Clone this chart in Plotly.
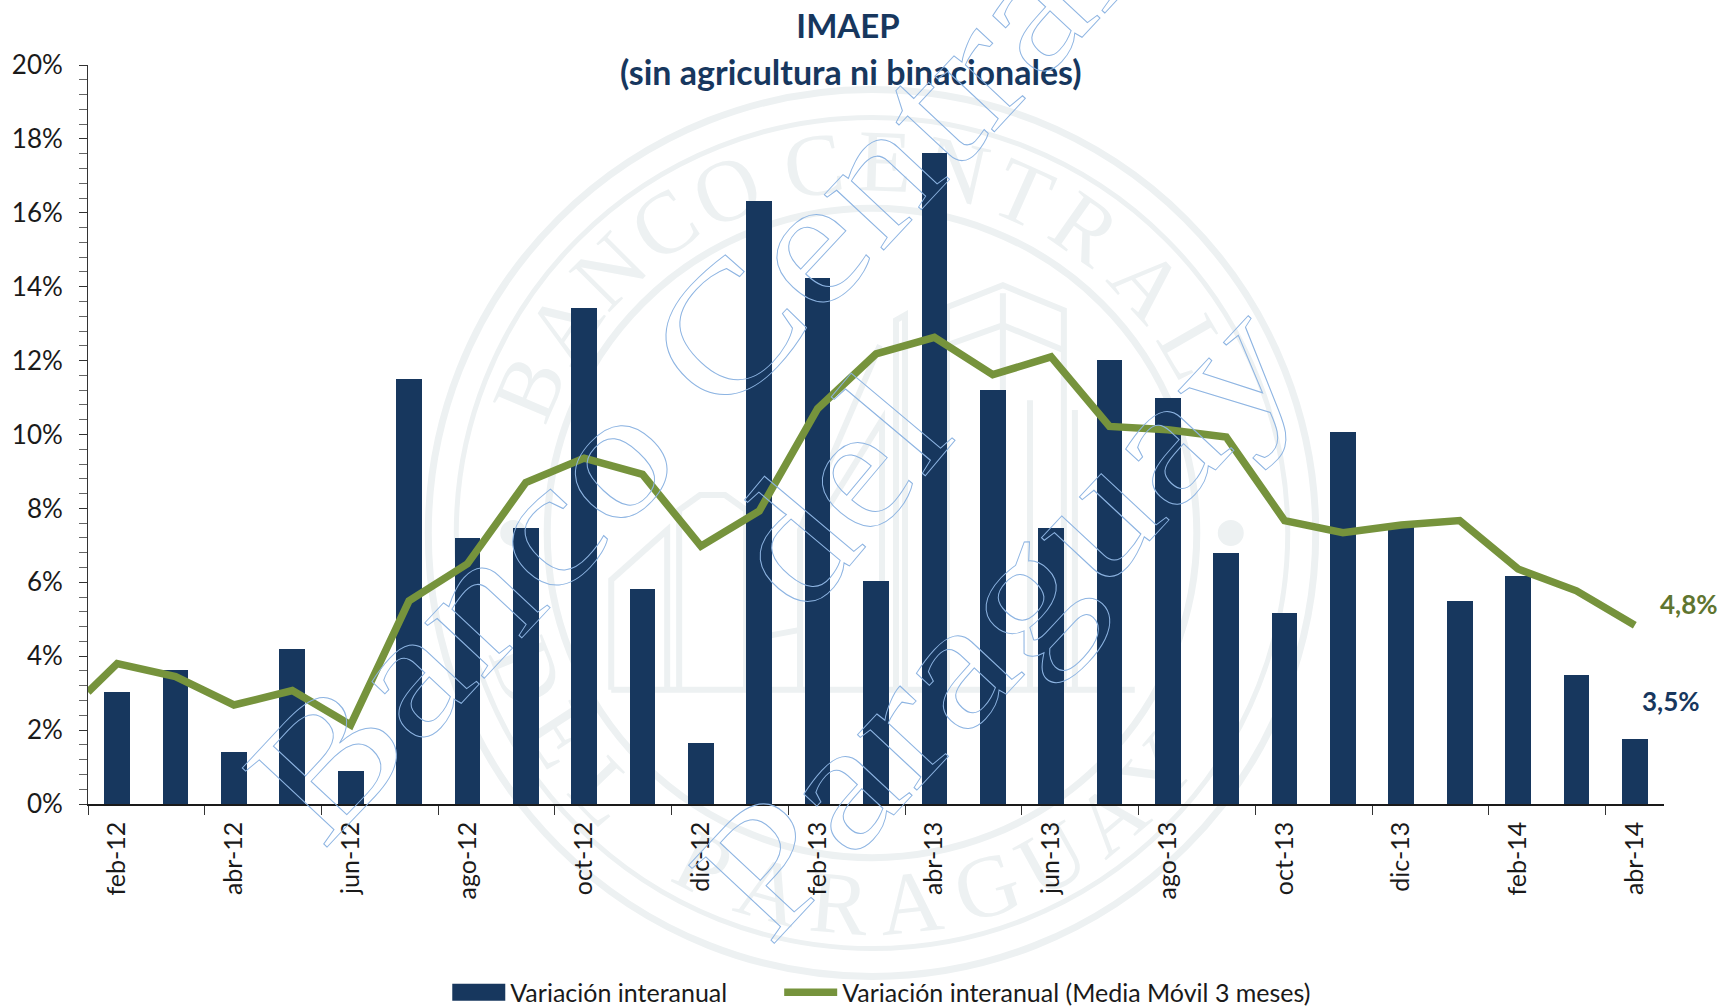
import math
import plotly.graph_objects as go

W, H = 1723, 1007
L, R, T, B = 87.5, 1664.5, 64.5, 804.3

months = ["feb-12","mar-12","abr-12","may-12","jun-12","jul-12","ago-12","sep-12","oct-12","nov-12","dic-12","ene-13",
          "feb-13","mar-13","abr-13","may-13","jun-13","jul-13","ago-13","sep-13","oct-13","nov-13","dic-13","ene-14",
          "feb-14","mar-14","abr-14"]
bar_values = [3.03,3.63,1.40,4.19,0.88,11.50,7.19,7.46,13.43,5.82,1.66,16.31,14.23,6.03,17.62,11.20,7.46,12.02,10.98,
              6.80,5.17,10.07,7.55,5.50,6.18,3.50,1.75]
line_values = [3.80,3.45,2.68,3.07,2.14,5.50,6.50,8.70,9.36,8.92,6.98,7.93,10.70,12.18,12.63,11.62,12.10,10.22,10.13,
               9.93,7.67,7.34,7.55,7.67,6.36,5.77,4.84]
line_lead_in = 3.03
y_ticks = list(range(0, 21, 2))
label_line = "4,8%"
label_bar = "3,5%"
NAVY = "#17375E"
GREEN = "#76933C"
SEAL = "#EDF1F2"
FONT = "Lato"

def px(x): return (x - L) / (R - L)
def py(y): return (B - y) / (B - T)

positions = list(range(len(months)))
fig = go.Figure()
fig.add_trace(go.Bar(x=positions, y=bar_values, width=0.44, marker=dict(color=NAVY, line=dict(width=0)),
                     name="Variación interanual"))
fig.add_trace(go.Scatter(x=[-0.5] + positions, y=[line_lead_in] + line_values, mode="lines",
                         line=dict(color=GREEN, width=7.5), name="Variación interanual (Media Móvil 3 meses)"))

# --- seal watermark, behind the chart ---
CX, CY = 872, 533
shapes = []
def ring(r, w):
    shapes.append(dict(type="circle", xref="paper", yref="paper", layer="below",
                       x0=px(CX-r), x1=px(CX+r), y0=py(CY+r), y1=py(CY-r), line=dict(color=SEAL, width=w)))
ring(444, 7); ring(416, 5); ring(325, 7)
for dx in (-359, 359):
    shapes.append(dict(type="circle", xref="paper", yref="paper", layer="below",
                       x0=px(CX+dx-13), x1=px(CX+dx+13), y0=py(CY+13), y1=py(CY-13),
                       fillcolor=SEAL, line=dict(width=0)))
building = [
    [(611,690),(611,580),(667,530),(667,690)],
    [(679,690),(679,510),(700,495),(725,495),(746,510),(746,690)],
    [(611,690),(1135,690)],
    [(746,640),(800,630)],
    [(896,690),(896,320),(905,315),(905,690)],
    [(820,520),(882,420),(882,690)],
    [(800,690),(800,530),(880,345)],
    [(947,690),(947,307),(1003,285),(1064,310),(1064,690)],
    [(1003,293),(1003,690)],
    [(947,345),(1003,325),(1064,350)],
    [(1030,400),(1030,690)],
    [(1075,410),(1075,690)],
]
for poly in building:
    path = "M" + " L".join(f"{px(a):.4f},{py(b):.4f}" for a, b in poly)
    shapes.append(dict(type="path", path=path, xref="paper", yref="paper", layer="below",
                       line=dict(color=SEAL, width=6)))

annotations = []
top_letters = "BANCO CENTRAL"
top_angles = [-67,-56,-45,-34,-23,None,-9,2,13,24,35,48,60]
for ch, ang in zip(top_letters, top_angles):
    if ang is None: continue
    a = math.radians(ang)
    annotations.append(dict(text=ch, xref="paper", yref="paper", showarrow=False, textangle=ang,
                            x=px(CX+372*math.sin(a)), y=py(CY-372*math.cos(a)), xanchor="center", yanchor="middle",
                            font=dict(family="Liberation Serif", size=88, color=SEAL)))
bottom_letters = "DEL PARAGUAY"
bottom_angles = [-68,-57,-46,None,-27,-16,-5,6,18,29,40,50]
for ch, ang in zip(bottom_letters, bottom_angles):
    if ang is None: continue
    a = math.radians(ang)
    annotations.append(dict(text=ch, xref="paper", yref="paper", showarrow=False, textangle=-ang,
                            x=px(CX+372*math.sin(a)), y=py(CY+372*math.cos(a)), xanchor="center", yanchor="middle",
                            font=dict(family="Liberation Serif", size=88, color=SEAL)))

# --- labels ---
annotations += [
    dict(text="<b>(sin agricultura ni binacionales)</b>", xref="paper", yref="paper", showarrow=False,
         x=px(851), y=py(71), xanchor="center", yanchor="middle", font=dict(family=FONT, size=34, color=NAVY)),
    dict(text=f"<b>{label_line}</b>", xref="paper", yref="paper", showarrow=False, x=px(1690), y=py(604),
         xanchor="center", yanchor="middle", font=dict(family=FONT, size=26, color="#5F7530")),
    dict(text=f"<b>{label_bar}</b>", xref="paper", yref="paper", showarrow=False, x=px(1672), y=py(701),
         xanchor="center", yanchor="middle", font=dict(family=FONT, size=26, color=NAVY)),
]
# --- outlined "Banco Central del Paraguay" watermark, above the chart ---
for txt, cx, cy, ang in [("Banco Central", 688, 372, -47), ("del", 835, 490, -50), ("Paraguay", 996, 619, -47)]:
    annotations.append(dict(text=txt, xref="paper", yref="paper", showarrow=False, textangle=ang,
                            x=px(cx), y=py(cy), xanchor="center", yanchor="middle",
                            font=dict(family="Liberation Serif", size=177, color="rgba(0,0,0,0)")))

minor_x = [i - 0.5 for i in range(0, len(months) + 1, 2)]
fig.update_layout(
    width=W, height=H, autosize=False, paper_bgcolor="white", plot_bgcolor="rgba(0,0,0,0)",
    margin=dict(l=L, r=W-R, t=T, b=H-B, pad=0, autoexpand=False), hovermode=False, bargap=0,
    font=dict(family=FONT, size=25, color="#1A1A1A"),
    title=dict(text="<b>IMAEP</b>", x=848/W, xanchor="center", y=1-26/H, yanchor="middle",
               font=dict(family=FONT, size=33, color=NAVY)),
    showlegend=True,
    legend=dict(orientation="h", x=px(447), xanchor="left", y=py(993), yanchor="middle", itemwidth=53,
                font=dict(family=FONT, size=25, color="#1A1A1A"), bgcolor="rgba(0,0,0,0)", traceorder="normal"),
    shapes=shapes, annotations=annotations,
    xaxis=dict(range=[-0.5, len(months)-0.5], tickmode="array", tickvals=positions[::2], ticktext=months[::2],
               tickangle=-90, ticks="", showgrid=False, zeroline=False, showline=True, linecolor="#1A1A1A", linewidth=1.5,
               ticklabelstandoff=6, tickfont=dict(family=FONT, size=25, color="#1A1A1A"),
               minor=dict(tickmode="array", tickvals=minor_x, ticks="outside", ticklen=9, tickwidth=1, tickcolor="#333333", showgrid=False)),
    yaxis=dict(range=[0, 20], tickmode="array", tickvals=y_ticks, ticktext=[f"{v}%" for v in y_ticks],
               ticks="outside", ticklen=8, tickwidth=1, tickcolor="#333333", showgrid=False, zeroline=False,
               showline=True, linecolor="#333333", linewidth=1, ticklabelstandoff=11,
               tickfont=dict(family=FONT, size=26, color="#1A1A1A"),
               minor=dict(dtick=0.4, tick0=0, ticks="outside", ticklen=8, tickwidth=1, tickcolor="#666666", showgrid=False)),
)

post = r"""
var gd = document.getElementById('{plot_id}');
document.body.style.margin = '0';
var below = gd.querySelector('.layer-below .shapelayer');
var stretch = {'Banco Central': 1.18, 'del': 1.1, 'Paraguay': 1.2};
gd.querySelectorAll('.annotation').forEach(function (g) {
  var t = g.querySelector('text'); if (!t) return;
  var s = t.textContent;
  if (s.length === 1) { below.appendChild(g); }
  if (stretch[s]) {
    t.style.fill = 'none'; t.style.stroke = '#8DB4E2'; t.style.strokeWidth = '1px';
    t.style.vectorEffect = 'non-scaling-stroke';
    var bb = t.getBBox(), c = bb.x + bb.width / 2;
    t.setAttribute('transform', 'translate(' + c + ',0) scale(' + stretch[s] + ',1) translate(' + (-c) + ',0)');
  }
});
var tr = gd.querySelectorAll('.legend .traces');
var sb = gd.querySelector('.legend .scrollbox');
if (sb) { sb.removeAttribute('clip-path'); }
if (tr.length > 1) {
  tr[0].querySelectorAll('.legendpoints path').forEach(function (b) {
    b.setAttribute('d', 'M26.5,8.5H-26.5V-8.5H26.5Z');
    b.style.d = "path('M26.5,8.5H-26.5V-8.5H26.5Z')";
  });
  var m = /translate\(([-\d.]+)[ ,]*([-\d.]*)\)/.exec(tr[1].getAttribute('transform'));
  if (m) { tr[1].setAttribute('transform', 'translate(' + (parseFloat(m[1]) + 47) + ',' + (m[2] || 0) + ')'); }
}
"""
fig.write_html("out.html", post_script=post, config={"displayModeBar": False})
